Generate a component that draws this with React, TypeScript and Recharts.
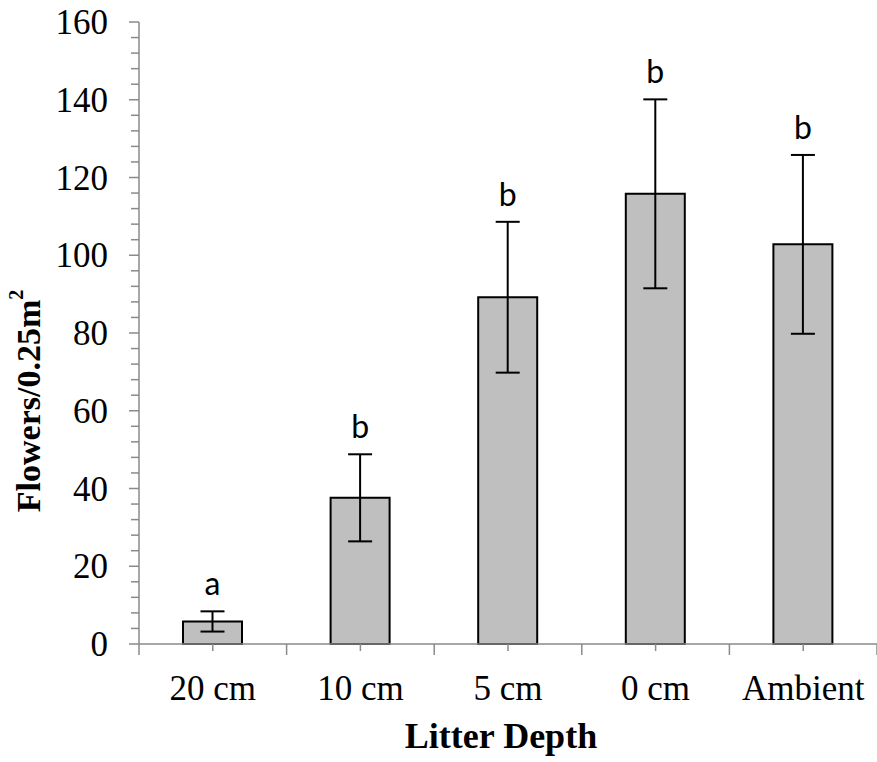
import { BarChart, Bar, XAxis, YAxis, ErrorBar, LabelList } from 'recharts'

// Flowers per 0.25 m² by litter depth treatment (mean ± SE)
const depths = ['20 cm', '10 cm', '5 cm', '0 cm', 'Ambient']
const meanFlowers = [5.8, 37.6, 89.2, 115.8, 102.8]
const seFlowers = [2.6, 11.2, 19.4, 24.3, 23.0]
const groupLetters = ['a', 'b', 'b', 'b', 'b']

const majorTicks = [0, 20, 40, 60, 80, 100, 120, 140, 160]
// minor ticks every 4 units along the y axis
const yTicks = Array.from({ length: 41 }, (_, i) => i * 4)

const data = depths.map((depth, i) => ({
  depth,
  mean: meanFlowers[i],
  se: seFlowers[i],
  letter: groupLetters[i],
}))

const W = 877
const H = 762
const LEFT = 139
const HALF_BAND = (W - LEFT) / depths.length / 2
const AXIS_GRAY = '#8a8a8a'
const SERIF = '"Liberation Serif", "Times New Roman", serif'
const SANS = 'Lato, "Open Sans", sans-serif'

function DepthTick(props: any) {
  const { x, y, payload, index } = props
  const half = payload?.offset || HALF_BAND
  const last = index === depths.length - 1
  return (
    <g>
      <line x1={x} x2={x} y1={y} y2={y + 7} stroke={AXIS_GRAY} strokeWidth={1.5} />
      <line x1={x - half} x2={x - half} y1={y} y2={y + 11} stroke={AXIS_GRAY} strokeWidth={1.5} />
      {last && <line x1={x + half} x2={x + half} y1={y} y2={y + 11} stroke={AXIS_GRAY} strokeWidth={1.5} />}
      <text x={x} y={y + 56} textAnchor="middle" fontFamily={SERIF} fontSize={35} fill="#000">
        {payload.value}
      </text>
    </g>
  )
}

function FlowerTick(props: any) {
  const { x, y, payload } = props
  const major = majorTicks.includes(payload.value)
  return (
    <g>
      <line x1={x - (major ? 10 : 8)} x2={x} y1={y} y2={y} stroke={AXIS_GRAY} strokeWidth={1.5} />
      {major && (
        <text x={x - 31} y={y + 12} textAnchor="end" fontFamily={SERIF} fontSize={35} fill="#000">
          {payload.value}
        </text>
      )}
    </g>
  )
}

function YTitle(props: any) {
  const vb = props.viewBox || { x: 0, y: 0, width: LEFT, height: 0 }
  const cx = vb.x + 28
  const cy = vb.y + vb.height / 2 + 68
  return (
    <text
      x={cx}
      y={cy}
      transform={`rotate(-90 ${cx} ${cy})`}
      textAnchor="middle"
      dominantBaseline="central"
      fontFamily={SERIF}
      fontWeight="bold"
      fontSize={34}
      fill="#000"
    >
      Flowers/0.25m
      <tspan dy={-12} fontSize={20}>2</tspan>
    </text>
  )
}

function XTitle(props: any) {
  const vb = props.viewBox || { x: LEFT, y: 0, width: W - LEFT, height: 0 }
  return (
    <text
      x={vb.x + vb.width / 2 - 7}
      y={vb.y + 104}
      textAnchor="middle"
      fontFamily={SERIF}
      fontWeight="bold"
      fontSize={36}
      fill="#000"
    >
      Litter Depth
    </text>
  )
}

function renderLetter(props: any) {
  const { x, y, width, height, value, index } = props
  const row = data[index]
  if (!row || !row.mean) return null
  // place the letter just above the top of the error bar, using the bar's own scale
  const pxPerUnit = height / row.mean
  const capY = y - row.se * pxPerUnit
  return (
    <text x={x + width / 2} y={capY - 16} textAnchor="middle" fontFamily={SANS} fontSize={32} fill="#000">
      {value}
    </text>
  )
}

export default function App() {
  return (
    <div style={{ position: 'absolute', left: 0, top: 0, width: W, height: H, background: '#fff' }}>
      <BarChart width={W} height={H} data={data} margin={{ top: 22, right: 0, bottom: 0, left: 0 }}>
        <XAxis
          dataKey="depth"
          height={118}
          interval={0}
          tickLine={false}
          tickSize={0}
          tickMargin={0}
          axisLine={{ stroke: AXIS_GRAY, strokeWidth: 1.5 }}
          tick={<DepthTick />}
          label={<XTitle />}
        />
        <YAxis
          type="number"
          domain={[0, 160]}
          ticks={yTicks}
          interval={0}
          width={LEFT}
          tickLine={false}
          tickSize={0}
          tickMargin={0}
          axisLine={{ stroke: AXIS_GRAY, strokeWidth: 1.5 }}
          tick={<FlowerTick />}
          label={<YTitle />}
        />
        <Bar dataKey="mean" fill="#bfbfbf" stroke="#000" strokeWidth={2} barSize={59} isAnimationActive={false}>
          <ErrorBar dataKey="se" direction="y" width={12} stroke="#000" strokeWidth={2} />
          <LabelList dataKey="letter" content={renderLetter} />
        </Bar>
      </BarChart>
    </div>
  )
}
